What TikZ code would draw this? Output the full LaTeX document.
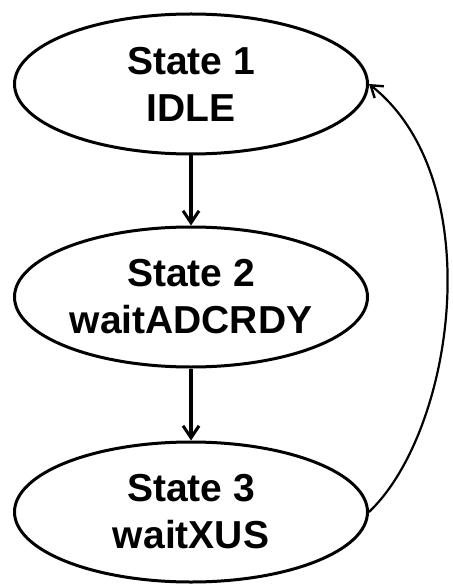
\documentclass[tikz,border=0pt]{standalone}
\usepackage{fontspec}
\setmainfont{Liberation Sans}
\usetikzlibrary{arrows.meta,positioning,shapes.geometric}

\begin{document}
\begin{tikzpicture}[
    x=1pt, y=1pt,
    statebox/.style={ellipse, draw=black, line width=3pt, fill=white,
        minimum width=353pt, minimum height=140pt, inner sep=0pt,
        align=center, font=\fontsize{39}{47}\selectfont\bfseries},
    arrw/.style={-{Straight Barb[length=12pt,width=16pt,line width=3pt]},
        black, line width=3.4pt},
    backarrw/.style={-{Straight Barb[length=11pt,width=15pt,line width=2.4pt]},
        black, line width=2.2pt},
]
\useasboundingbox (0,0) rectangle (452,-585);

% === STATES ===
\node[statebox] (s1) at (191, -84)  {State 1\\IDLE};
\node[statebox] (s2) at (191, -297) {State 2\\waitADCRDY};
\node[statebox] (s3) at (191, -512) {State 3\\waitXUS};

% === TRANSITIONS ===
\draw[arrw] (s1.south) -- (s2.north);
\draw[arrw] (s2.south) -- (s3.north);

% back to idle
\draw[backarrw] (s3.east) .. controls (455, -430) and (490, -180) .. (s1.east);

\end{tikzpicture}
\end{document}
